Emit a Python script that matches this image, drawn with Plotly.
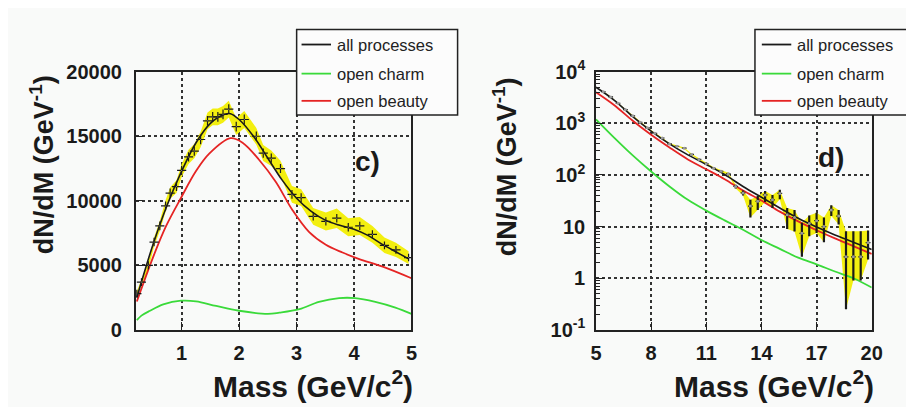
import plotly.graph_objects as go

W, H = 914, 407

# ---------------- panel c) data ----------------
c_pts_x = [0.22,0.30,0.42,0.52,0.62,0.72,0.80,0.91,1.00,1.12,1.22,1.33,1.45,1.54,1.63,1.72,1.82,1.95,2.09,2.30,
           2.42,2.56,2.72,2.92,3.08,3.29,3.51,3.70,3.90,4.10,4.32,4.53,4.73,4.95]
c_pts_y = [2800,3700,5000,6800,8050,9600,10600,11100,12350,13400,13850,14750,16200,16500,16500,16700,17100,15750,16300,15000,
           13700,13300,12500,10500,10250,8800,8400,8650,7950,8050,7400,6550,6200,5600]
c_stat = [300,300,320,330,340,350,350,350,360,360,360,370,380,380,380,380,380,380,380,370,
          360,360,350,340,340,330,320,330,320,320,310,300,300,290]
c_band = [200,250,300,350,400,450,450,500,500,550,550,600,650,650,650,650,650,650,650,650,
          620,600,600,650,650,650,700,750,700,700,650,600,550,500]

c_all_x = [0.22,0.5,0.75,1.0,1.25,1.5,1.75,1.85,2.0,2.25,2.5,2.75,3.0,3.25,3.5,3.75,4.0,4.25,4.5,4.75,4.95]
c_all_y = [2500,6600,9700,12300,14500,16000,16700,16750,16300,15000,13300,11600,10200,9200,8500,8100,7800,7300,6600,6000,5500]

c_beauty_x = [0.22,0.5,0.73,0.99,1.25,1.48,1.85,2.06,2.35,2.64,2.93,3.22,3.51,3.8,4.08,4.5,5.0]
c_beauty_y = [2200,5600,8050,10240,12300,13650,14850,14500,13160,11460,9270,7570,6590,5990,5500,4900,4000]

c_charm_x = [0.22,0.3,0.45,0.68,0.99,1.25,1.6,2.0,2.5,2.7,3.05,3.39,3.74,4.02,4.37,4.72,5.0]
c_charm_y = [750,1100,1480,1970,2260,2210,1850,1480,1240,1330,1600,2170,2460,2460,2170,1730,1240]

# ---------------- panel d) data ----------------
d_pts_x = [5.4,5.8,6.2,6.6,7.0,7.4,7.8,8.2,8.6,9.0,9.4,9.8,10.2,10.6,11.0,11.4,11.8,12.2,12.6,13.0,
           13.4,13.8,14.2,14.6,15.0,15.4,15.8,16.2,16.6,17.0,17.4,17.8,18.2,18.6,19.0,19.4,19.8]
d_pts_y = [4100,3250,2450,1850,1400,1050,820,640,520,400,360,330,250,200,165,135,118,105,60,45,
           25,31,41,33,44,17,15,7.4,11.5,13,10,21,16,2.6,2.6,2.6,4.9]
d_err_up = [60,50,40,32,27,22,19,16,14,12,11,10,9,8,7,6,5.5,5,5,5,
            8,8,8,8,8,6,6,4.5,5,5.5,5,5,5,5.5,5.5,5.5,3.5]
d_err_lo = [60,50,40,32,27,22,19,16,14,12,11,10,9,8,7,6,5.5,5,5,5,
            10,10,11,10,10,8,7,4.8,5,5.5,5,5,5,2.35,1.7,1.7,2.6]

d_x = [5,6,7,8,9,10,11,12,13,14,15,16,17,18,19,20]
d_all_y = [5000,2800,1350,710,400,245,160,102,60,37,23,14.5,9.8,6.9,5.0,3.6]
d_beauty_y = [4000,2240,1120,600,340,200,129,83,50,32,19.5,12.6,8.5,5.9,4.2,2.95]
d_charm_y = [1200,525,240,117,60,33,20.4,13.2,8.7,5.5,3.7,2.5,1.86,1.35,1.0,0.66]

c_xticks = [1, 2, 3, 4, 5]
c_yticks = [0, 5000, 10000, 15000, 20000]
c_yticktext = ["0", "5000", "10000", "15000", "20000"]
d_xticks = [5, 8, 11, 14, 17, 20]
d_yticks = [0.1, 1, 10, 100, 1000, 10000]
d_yticktext = ["10<sup>-1</sup>", "1", "10", "10<sup>2</sup>", "10<sup>3</sup>", "10<sup>4</sup>"]

legend_names = ["all processes", "open charm", "open beauty"]

BLACK = "#1a1a1a"
GREEN = "#3ada3a"
RED = "#e52424"
YELLOW = "#f3ef10"
BG = "#f9faf9"

fig = go.Figure()

def add_panel(xa, ya, px, py, err_up, err_lo, band_up, band_lo, perr_x, cx, call, ccharm, cbeauty, vbar_w):
    lo = [y - b for y, b in zip(py, band_lo)]
    hi = [y + b for y, b in zip(py, band_up)]
    fig.add_trace(go.Scatter(x=px, y=lo, mode="lines", line=dict(width=0, color=YELLOW),
                             xaxis=xa, yaxis=ya, showlegend=False, hoverinfo="skip"))
    fig.add_trace(go.Scatter(x=px, y=hi, mode="lines", line=dict(width=0, color=YELLOW),
                             fill="tonexty", fillcolor=YELLOW,
                             xaxis=xa, yaxis=ya, showlegend=False, hoverinfo="skip"))
    fig.add_trace(go.Scatter(x=cx[1], y=cbeauty, mode="lines", line=dict(color=RED, width=1.8, shape="spline"),
                             xaxis=xa, yaxis=ya, showlegend=False))
    fig.add_trace(go.Scatter(x=cx[2], y=ccharm, mode="lines", line=dict(color=GREEN, width=1.8, shape="spline"),
                             xaxis=xa, yaxis=ya, showlegend=False))
    fig.add_trace(go.Scatter(x=cx[0], y=call, mode="lines", line=dict(color=BLACK, width=1.6, shape="spline"),
                             xaxis=xa, yaxis=ya, showlegend=False))
    fig.add_trace(go.Scatter(x=px, y=py, mode="markers",
                             marker=dict(size=3 if vbar_w > 1.5 else 1, color="#9a9a9a"),
                             error_y=dict(type="data", symmetric=False, array=err_up, arrayminus=err_lo,
                                          color=BLACK, thickness=vbar_w, width=0),
                             error_x=dict(type="constant", value=perr_x, color=BLACK, thickness=1.2, width=0),
                             xaxis=xa, yaxis=ya, showlegend=False))

add_panel("x", "y", c_pts_x, c_pts_y, c_stat, c_stat, c_band, c_band, 0.08,
          (c_all_x, c_beauty_x, c_charm_x), c_all_y, c_charm_y, c_beauty_y, 1.2)
add_panel("x2", "y2", d_pts_x, d_pts_y, d_err_up, d_err_lo, d_err_up, d_err_lo, 0.13,
          (d_x, d_x, d_x), d_all_y, d_charm_y, d_beauty_y, 2.2)

tickfont = dict(family="Liberation Sans, Arial, sans-serif", size=20, color=BLACK, weight="bold")
common = dict(showline=True, mirror=True, linecolor="#222222", linewidth=1.5,
              ticks="inside", ticklen=8, tickcolor="#222222", tickwidth=1.2,
              showgrid=True, gridcolor="#333333", griddash="dot", gridwidth=1.6,
              zeroline=False, tickfont=tickfont)

yb0, yb1 = 1 - 328 / H, 1 - 53 / H
fig.update_layout(
    width=W, height=H, margin=dict(l=0, r=0, t=0, b=0),
    paper_bgcolor=BG, plot_bgcolor=BG, showlegend=False,
    xaxis=dict(domain=[124 / W, 405 / W], range=[0.2, 5], tickmode="array", tickvals=c_xticks,
               anchor="y", ticklabelstandoff=4, **common),
    yaxis=dict(domain=[yb0, yb1], range=[0, 20000], tickmode="array", tickvals=c_yticks,
               ticktext=c_yticktext, anchor="x", ticklabelstandoff=8, **common),
    xaxis2=dict(domain=[593 / W, 874 / W], range=[5, 20], tickmode="array", tickvals=d_xticks,
                anchor="y2", ticklabelstandoff=4, **common),
    yaxis2=dict(domain=[yb0, yb1], type="log", range=[-1, 4], tickmode="array", tickvals=d_yticks,
                ticktext=d_yticktext, anchor="x2", ticklabelstandoff=5,
                minor=dict(tickmode="array",
                           tickvals=[m * 10 ** e for e in range(-1, 4) for m in range(2, 10)],
                           ticks="inside", ticklen=4, tickcolor="#222222", showgrid=False),
                **common),
)

title_font = dict(family="Liberation Sans, Arial, sans-serif", size=30, color=BLACK, weight="bold")
lab_font = dict(family="Liberation Sans, Arial, sans-serif", size=28, color=BLACK, weight="bold")
ytitle_font = dict(family="Liberation Sans, Arial, sans-serif", size=27, color=BLACK, weight="bold")
ann = []
for xc in (305, 774):
    ann.append(dict(text="Mass (GeV/c<sup>2</sup>)", x=xc / W, y=1 - 386 / H, xref="paper", yref="paper",
                    showarrow=False, font=title_font, xanchor="center", yanchor="middle"))
for xc, yc in ((28, 152), (500, 154)):
    ann.append(dict(text="dN/dM (GeV<sup>-1</sup>)", x=xc / W, y=1 - yc / H, xref="paper", yref="paper",
                    showarrow=False, font=ytitle_font, textangle=-90, xanchor="center", yanchor="middle"))
ann.append(dict(text="c)", x=360 / W, y=1 - 149 / H, xref="paper", yref="paper", showarrow=False,
                font=lab_font, xanchor="center", yanchor="middle"))
ann.append(dict(text="d)", x=832 / W, y=1 - 144 / H, xref="paper", yref="paper", showarrow=False,
                font=lab_font, xanchor="center", yanchor="middle"))

shapes = []
leg_font = dict(family="Liberation Sans, Arial, sans-serif", size=16.5, color="#222222")
leg_colors = [BLACK, GREEN, RED]
for (bx0, bx1, lx0, lx1, tx) in ((288, 452, 293, 323, 327), (755, 916, 762, 792, 796)):
    shapes.append(dict(type="rect", xref="paper", yref="paper", x0=bx0 / W, x1=bx1 / W,
                       y0=1 - 99 / H, y1=1 - 8 / H, fillcolor="#fcfcfc",
                       line=dict(color="#222222", width=1.5), layer="above"))
    for name, col, yy in zip(legend_names, leg_colors, (24, 55, 84)):
        shapes.append(dict(type="line", xref="paper", yref="paper", x0=lx0 / W, x1=lx1 / W,
                           y0=1 - yy / H, y1=1 - yy / H, line=dict(color=col, width=1.8), layer="above"))
        ann.append(dict(text=name, x=tx / W, y=1 - yy / H, xref="paper", yref="paper", showarrow=False,
                        font=leg_font, xanchor="left", yanchor="middle"))

fig.update_layout(annotations=ann, shapes=shapes)
fig.write_html("out.html")
